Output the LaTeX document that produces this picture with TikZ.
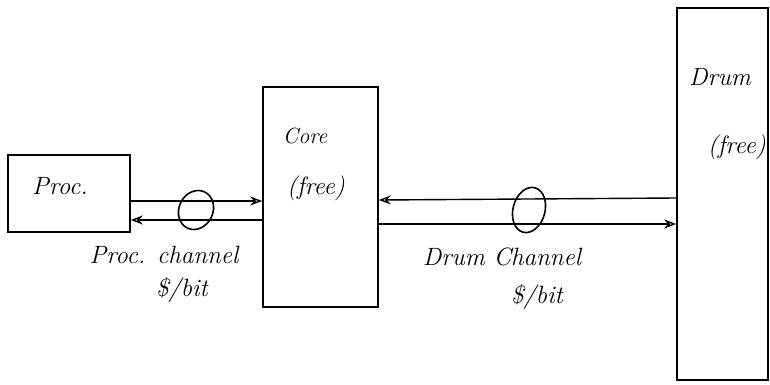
\documentclass[tikz,border=0pt]{standalone}
\usetikzlibrary{arrows.meta,shapes.geometric}
\begin{document}
\begin{tikzpicture}[x=1pt,y=-1pt,
  box/.style={draw,line width=1.6pt,inner sep=0pt},
  lbl/.style={font=\fontsize{25}{28}\selectfont\itshape,inner sep=0pt},
  chan/.style={line width=1.4pt},
  tip/.style={-{Stealth[open,length=12pt,width=9pt]}},
  ring/.style={draw,ellipse,line width=1.6pt,inner sep=0pt}]
\useasboundingbox (0,0) rectangle (770,385);
% boxes
\node[box,minimum width=122pt,minimum height=77pt] (proc) at (69,193.5) {};
\node[box,minimum width=115pt,minimum height=220pt] (core) at (320.5,197) {};
\node[box,minimum width=91pt,minimum height=372pt] (drum) at (722.5,194) {};
% box texts
\node[lbl] (tproc) at (60,186) {Proc.};
\node[lbl,font=\fontsize{22}{26}\selectfont\itshape] (tcore) at (305,136) {Core};
\node[lbl] (tcfree) at (316,188) {(free)};
\node[lbl] (tdrum) at (720,77) {Drum};
\node[lbl,anchor=east] (tdfree) at (766,147) {(free)};
% proc channel
\draw[chan,tip] (proc.east |- 0,201) -- (core.west |- 0,201);
\draw[chan,tip] (core.west |- 0,220) -- (proc.east |- 0,220);
\node[ring,minimum width=34pt,minimum height=40pt,rotate=-25] (pring) at (196,210) {};
\node[lbl] (tpch) at (164,255) {Proc. channel};
\node[lbl] (tpbit) at (182,290) {\$/bit};
% drum channel
\draw[chan,tip] (drum.west |- 0,198) -- (core.east |- 0,200);
\draw[chan,tip] (core.east |- 0,224) -- (drum.west |- 0,224);
\node[ring,minimum width=32pt,minimum height=46pt,rotate=-15] (dring) at (529,210) {};
\node[lbl] (tdch) at (502,257) {Drum Channel};
\node[lbl] (tdbit) at (537,297) {\$/bit};
\end{tikzpicture}
\end{document}
